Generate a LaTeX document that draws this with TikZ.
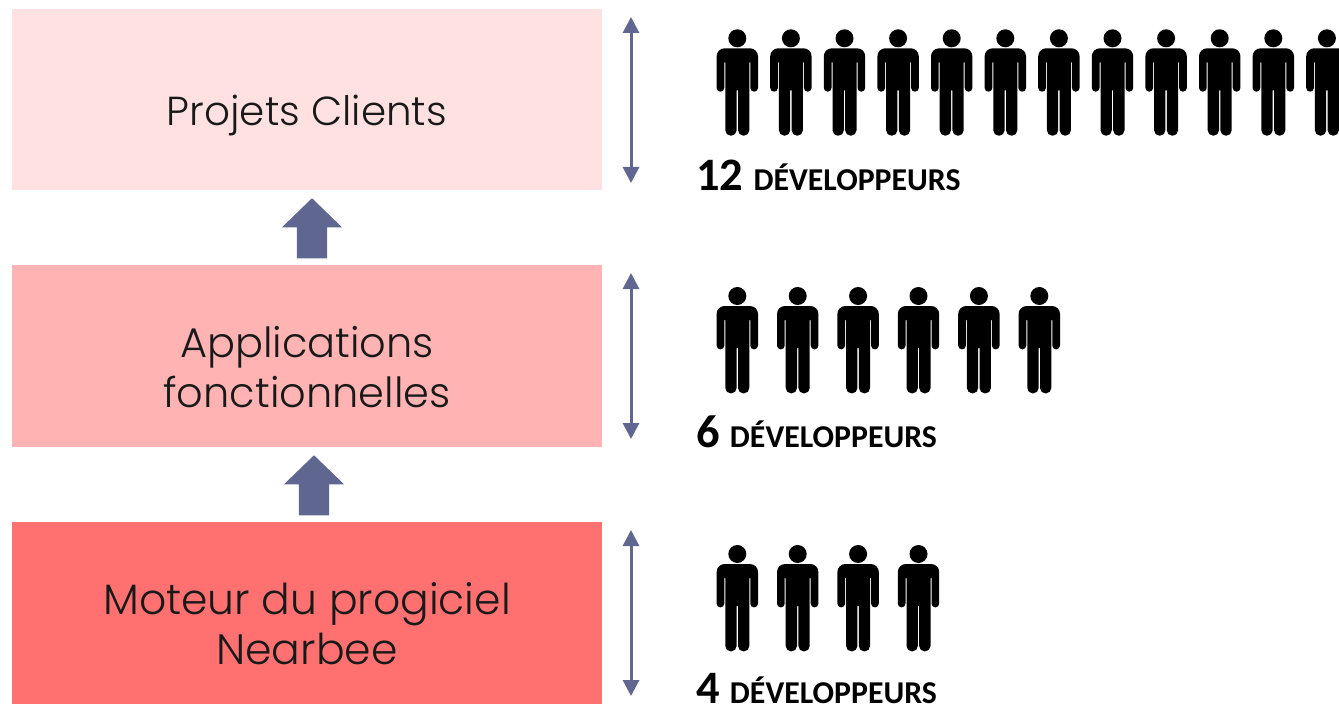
\documentclass[tikz,border=0pt]{standalone}
\usepackage{fontspec}
\setmainfont{Poppins Light}
\newfontfamily\lblfont{Carlito}
\usetikzlibrary{arrows.meta,shapes.arrows}
\definecolor{boxa}{HTML}{FFE1E1}
\definecolor{boxb}{HTML}{FFB3B3}
\definecolor{boxc}{HTML}{FF7171}
\definecolor{arrowblue}{HTML}{5F6690}
\tikzset{
  tierbox/.style={fill=#1,draw=none,minimum width=590pt,minimum height=182pt,inner sep=0pt,anchor=north west},
  tiertext/.style={inner sep=0pt,align=center,font=\fontsize{#1}{50}\selectfont,text=black!90},
  bigarrow/.style={single arrow,fill=arrowblue,draw=none,minimum height=60pt,inner ysep=15pt,inner xsep=0pt,single arrow head extend=15pt,single arrow tip angle=92,rotate=90,anchor=tip},
  span/.style={draw=arrowblue,line width=3pt,{Triangle[width=16pt,length=16pt]}-{Triangle[width=16pt,length=16pt]}},
  lbl/.style={anchor=base west,inner sep=0pt,font=\lblfont\bfseries\fontsize{31.8}{34}\selectfont,text=black},
  person/.pic={
    \fill[black] (0,0) circle (9);
    \fill[black] (-13,24) [rounded corners=3.8] -- (-13,53.4) -- (-20.7,53.4) [rounded corners=8] -- (-20.7,10) -- (20.7,10) [rounded corners=3.8] -- (20.7,53.4) -- (13,53.4) [sharp corners] -- (13,24) -- (12,24) [rounded corners=5.4] -- (12,97.4) -- (0.7,97.4) [sharp corners] -- (0.7,52) -- (-0.7,52) [rounded corners=5.4] -- (-0.7,97.4) -- (-12,97.4) [sharp corners] -- (-12,24) -- cycle;
  }
}
\newcommand{\lblnum}[1]{{\fontsize{46.5}{48}\selectfont #1}\hspace{3pt}}
\begin{document}
\begin{tikzpicture}[x=1pt,y=-1pt]
\useasboundingbox (0,0) rectangle (1339,706);
\clip (0,0) rectangle (1339,706);
\node[tierbox=boxa,minimum height=181pt] (clients) at (12,9) {};
\node[tierbox=boxb] (apps) at (12,265) {};
\node[tierbox=boxc] (moteur) at (12,522) {};
\node[tiertext=40.5] (clientst) at (307,115) {Projets Clients};
\node[tiertext=41.5] (appst) at (307,367) {Applications\\fonctionnelles};
\node[tiertext=42.5] (moteurt) at (307,624) {Moteur du progiciel\\Nearbee};
\node[bigarrow] (up1) at (312,198) {};
\node[bigarrow] (up2) at (314,455) {};
\coordinate (a1) at (631,17); \coordinate (b1) at (631,183);
\coordinate (a2) at (631,273); \coordinate (b2) at (631,439);
\coordinate (a3) at (631,530); \coordinate (b3) at (631,696);
\draw[span] (a1) -- (b1);
\draw[span] (a2) -- (b2);
\draw[span] (a3) -- (b3);
\foreach \i in {0,...,11} {\pgfmathsetmacro{\px}{737.3+53.6*\i}\path (\px,38.3) pic {person};}
\foreach \i in {0,...,5} {\pgfmathsetmacro{\px}{737.3+60.4*\i}\path (\px,296) pic {person};}
\foreach \i in {0,...,3} {\pgfmathsetmacro{\px}{737.3+60.4*\i}\path (\px,554) pic {person};}
\node[lbl] (l1) at (696,190) {\lblnum{12} DÉVELOPPEURS};
\node[lbl] (l2) at (696,447) {\lblnum{6} DÉVELOPPEURS};
\node[lbl] (l3) at (696,703.3) {\lblnum{4} DÉVELOPPEURS};
\end{tikzpicture}
\end{document}
